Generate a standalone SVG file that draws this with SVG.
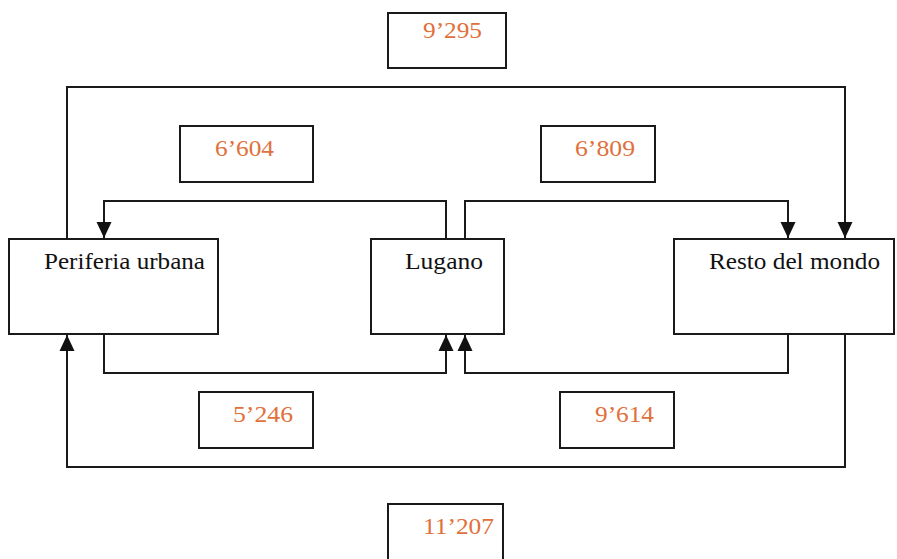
<svg xmlns="http://www.w3.org/2000/svg" width="897" height="559" viewBox="0 0 897 559">
<defs>
<style>
.box{fill:#fff;stroke:#1a1a1a;stroke-width:2}
.line{fill:none;stroke:#1a1a1a;stroke-width:2}
.lbl{font-family:"Liberation Serif","Times New Roman",serif;font-size:24px;fill:#111}
.num{font-family:"Liberation Serif","Times New Roman",serif;font-size:24px;fill:#e0703c}
</style>
<marker id="ah" viewBox="0 0 16 15" refX="16" refY="7.5" markerWidth="16" markerHeight="16" markerUnits="userSpaceOnUse" orient="auto">
<path d="M0,0 L16,7.5 L0,15 Z" fill="#111"/>
</marker>
</defs>
<rect width="897" height="559" fill="#fff"/>
<g id="connectors">
<path class="line" d="M67,239 V87 H845 V238" marker-end="url(#ah)"/>
<path class="line" d="M446,239 V201 H104 V238" marker-end="url(#ah)"/>
<path class="line" d="M465,239 V201 H788 V238" marker-end="url(#ah)"/>
<path class="line" d="M104,334 V373 H446 V335" marker-end="url(#ah)"/>
<path class="line" d="M788,334 V373 H465 V335" marker-end="url(#ah)"/>
<path class="line" d="M845,334 V467 H67 V335" marker-end="url(#ah)"/>
</g>
<g id="periferia">
<rect class="box" x="9" y="239" width="209" height="95"/>
<text class="lbl" x="44" y="269" textLength="161" lengthAdjust="spacingAndGlyphs">Periferia urbana</text>
</g>
<g id="lugano">
<rect class="box" x="371" y="239" width="133" height="95"/>
<text class="lbl" x="405" y="269" textLength="78" lengthAdjust="spacingAndGlyphs">Lugano</text>
</g>
<g id="resto">
<rect class="box" x="674" y="239" width="220" height="95"/>
<text class="lbl" x="709" y="269" textLength="171" lengthAdjust="spacingAndGlyphs">Resto del mondo</text>
</g>
<g id="v9295">
<rect class="box" x="388" y="13" width="118" height="55"/>
<text class="num" x="423" y="38" textLength="59" lengthAdjust="spacingAndGlyphs">9’295</text>
</g>
<g id="v6604">
<rect class="box" x="180" y="126" width="133" height="56"/>
<text class="num" x="215" y="156" textLength="59" lengthAdjust="spacingAndGlyphs">6’604</text>
</g>
<g id="v6809">
<rect class="box" x="541" y="126" width="114" height="56"/>
<text class="num" x="575" y="156" textLength="60" lengthAdjust="spacingAndGlyphs">6’809</text>
</g>
<g id="v5246">
<rect class="box" x="199" y="392" width="114" height="56"/>
<text class="num" x="233" y="422" textLength="60" lengthAdjust="spacingAndGlyphs">5’246</text>
</g>
<g id="v9614">
<rect class="box" x="560" y="392" width="114" height="56"/>
<text class="num" x="595" y="422" textLength="59" lengthAdjust="spacingAndGlyphs">9’614</text>
</g>
<g id="v11207">
<rect class="box" x="388" y="504" width="115" height="70"/>
<text class="num" x="423" y="534" textLength="71" lengthAdjust="spacingAndGlyphs">11’207</text>
</g>
</svg>
